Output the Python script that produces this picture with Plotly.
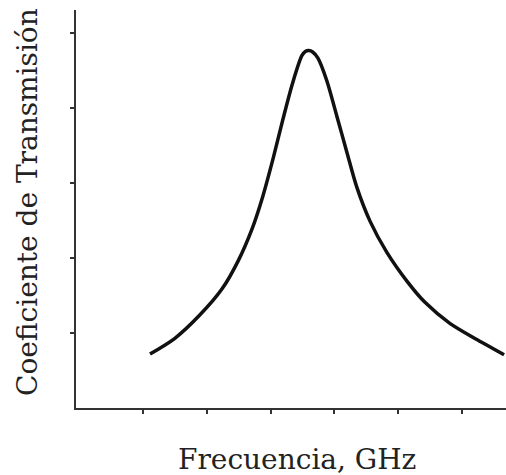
import plotly.graph_objects as go

# Frequency (arbitrary units, ticks at 1..6) and transmission coefficient (ticks at 1..5)
freq = [1.11, 1.50, 1.89, 2.24, 2.49, 2.71, 2.88, 3.04, 3.19, 3.34, 3.49, 3.55, 3.60,
        3.66, 3.74, 3.88, 4.04, 4.20, 4.35, 4.56, 4.82, 5.14, 5.42, 5.81, 6.24, 6.66]
trans = [0.72, 0.93, 1.24, 1.59, 1.96, 2.39, 2.83, 3.33, 3.84, 4.32, 4.70, 4.76, 4.77,
         4.75, 4.67, 4.37, 3.89, 3.40, 2.95, 2.49, 2.08, 1.69, 1.41, 1.13, 0.91, 0.71]
x_ticks = [1, 2, 3, 4, 5, 6]
y_ticks = [1, 2, 3, 4, 5]

fig = go.Figure()
fig.add_trace(go.Scatter(x=freq, y=trans, mode="lines",
                         line=dict(color="#111111", width=3.5, shape="spline", smoothing=0.8),
                         hoverinfo="skip"))

fig.update_layout(
    width=506, height=475,
    margin=dict(l=76, r=0, t=10, b=67),
    paper_bgcolor="white", plot_bgcolor="white",
    showlegend=False,
    xaxis=dict(range=[-0.05, 6.69], tickvals=x_ticks, showticklabels=False,
               ticks="outside", ticklen=4, tickwidth=2, tickcolor="#333333",
               showline=True, linecolor="#333333", linewidth=2,
               showgrid=False, zeroline=False),
    yaxis=dict(range=[0, 5.31], tickvals=y_ticks, showticklabels=False,
               ticks="outside", ticklen=4, tickwidth=2, tickcolor="#333333",
               showline=True, linecolor="#333333", linewidth=2,
               showgrid=False, zeroline=False),
    annotations=[
        dict(text="Frecuencia, GHz", xref="paper", yref="paper",
             x=(297 - 76) / 430, y=-(460 - 408) / 398, xanchor="center", yanchor="middle",
             showarrow=False, font=dict(family="DejaVu Serif", size=28, color="#222222")),
        dict(text="Coeficiente de Transmisión", xref="paper", yref="paper",
             x=-(76 - 27) / 430, y=(408 - 202) / 398, xanchor="center", yanchor="middle",
             textangle=-90, showarrow=False,
             font=dict(family="DejaVu Serif", size=28, color="#222222")),
    ],
)

fig.write_html("out.html",
               config={"displayModeBar": False},
               post_script="document.body.style.margin='0';document.body.style.overflow='hidden';")
